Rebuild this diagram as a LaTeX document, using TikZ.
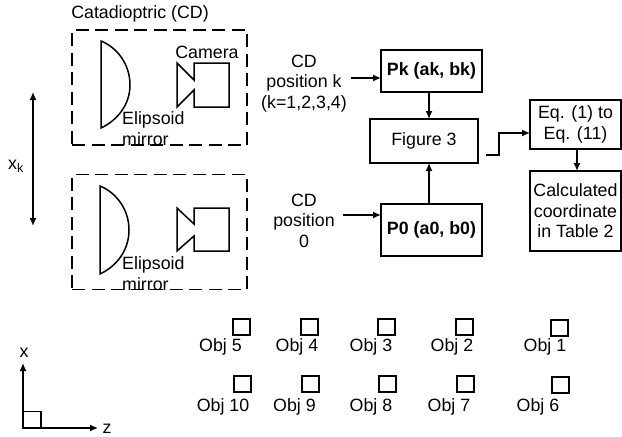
\documentclass[tikz,border=0pt]{standalone}
\usepackage{fontspec}
\setmainfont{Liberation Sans}
\usetikzlibrary{arrows.meta}
\tikzset{
  lw/.style={line width=1.5pt},
  arr/.style={lw,-{Latex[length=8pt,width=7pt]}},
  dbl/.style={lw,{Latex[length=8pt,width=7pt]}-{Latex[length=8pt,width=7pt]}},
  txt/.style={inner sep=0pt,align=center,font=\fontsize{17.8}{20.5}\selectfont},
  ltxt/.style={inner sep=0pt,align=left,font=\fontsize{17.8}{21}\selectfont},
  flow/.style={draw,lw,inner sep=0pt,outer sep=0pt,align=center,font=\fontsize{17.8}{20.5}\selectfont},
  dbox/.style={draw,lw,dash pattern=on 13pt off 6.5pt,inner sep=0pt,outer sep=0pt,minimum width=175pt,minimum height=115pt},
  objbox/.style={draw,lw,inner sep=0pt,outer sep=0pt,minimum width=17pt,minimum height=16pt},
  shapeline/.style={lw,line join=miter},
}
\begin{document}
\begin{tikzpicture}[x=1pt,y=-1pt]
\useasboundingbox (0,0) rectangle (622,437);
% dashed enclosures
\node[dbox] (cd1) at (159.5,87.5) {};
\node[dbox] (cd2) at (159.5,232) {};
\node[txt] (cdtitle) at (140,14) {Catadioptric (CD)};
% mirrors
\draw[shapeline] (101,41) .. controls (118,48) and (130,65) .. (130,85) .. controls (130,104) and (118,120) .. (101,128) -- cycle;
\draw[shapeline] (100,186) .. controls (117,193) and (129,210) .. (129,230) .. controls (129,250) and (117,266) .. (100,274) -- cycle;
% cameras
\draw[shapeline] (194,63) -- (229,63) -- (229,107) -- (194,107) -- (194,90) -- (177,107) -- (177,63) -- (194,80) -- cycle;
\draw[shapeline] (194,208) -- (229,208) -- (229,251) -- (194,251) -- (194,236) -- (177,251) -- (177,208) -- (194,224) -- cycle;
\node[txt] (camlabel) at (207,52) {Camera};
\node[ltxt,anchor=north west] (mir1) at (122,111) {Elipsoid\\mirror};
\node[ltxt,anchor=north west] (mir2) at (122,256.5) {Elipsoid\\mirror};
% xk arrow
\coordinate (xtop) at (33,92);
\coordinate (xbot) at (33,226);
\draw[dbl] (xtop) -- (xbot);
\node[txt] (xk) at (16,166) {x\textsubscript{k}};
% flow boxes
\node[flow,minimum width=101pt,minimum height=42pt,font=\fontsize{17.8}{20.5}\selectfont\bfseries] (pk) at (431.5,71) {Pk (ak, bk)};
\node[flow,minimum width=108pt,minimum height=44pt] (fig) at (424,141) {Figure 3};
\node[flow,minimum width=101pt,minimum height=52pt,font=\fontsize{17.8}{20.5}\selectfont\bfseries] (p0) at (431.5,230) {P0 (a0, b0)};
\node[flow,minimum width=91pt,minimum height=49pt] (eq) at (575.5,124.5) {Eq. (1) to\\Eq. (11)};
\node[flow,minimum width=91pt,minimum height=80pt] (calc) at (575.5,211) {Calculated\\coordinate\\in Table 2};
\node[txt] (posk) at (304,83.5) {CD\\position k\\(k=1,2,3,4)};
\node[txt] (pos0) at (304,220.5) {CD\\position\\0};
% connectors
\coordinate (posks) at (351,78);
\coordinate (pos0s) at (343,215);
\coordinate (stepstart) at (486,155);
\coordinate (stepa) at (499,155);
\coordinate (stepb) at (499,133);
\coordinate (midx) at (429,0);
\coordinate (eqx) at (577,0);
\draw[arr] (posks) -- (posks -| pk.west);
\draw[arr] (pos0s) -- (pos0s -| p0.west);
\draw[arr] (pk.south -| midx) -- (fig.north -| midx);
\draw[arr] (p0.north -| midx) -- (fig.south -| midx);
\draw[arr] (stepstart) -- (stepa) -- (stepb) -- (stepb -| eq.west);
\draw[arr] (eq.south -| eqx) -- (calc.north -| eqx);
% objects
\node[objbox] (o5) at (241.5,327) {};
\node[objbox] (o4) at (309.5,327) {};
\node[objbox] (o3) at (386.5,327) {};
\node[objbox] (o2) at (464.5,327) {};
\node[objbox] (o1) at (559.5,328) {};
\node[objbox] (o10) at (242.5,384) {};
\node[objbox] (o9) at (310.5,384) {};
\node[objbox] (o8) at (387.5,384) {};
\node[objbox] (o7) at (465.5,384) {};
\node[objbox] (o6) at (560.5,385) {};
\node[txt] (t5) at (220.5,346.5) {Obj 5};
\node[txt] (t4) at (297,346.5) {Obj 4};
\node[txt] (t3) at (371,346.5) {Obj 3};
\node[txt] (t2) at (452,346.5) {Obj 2};
\node[txt] (t1) at (545,346.5) {Obj 1};
\node[txt] (t10) at (223,406.5) {Obj 10};
\node[txt] (t9) at (294.5,406.5) {Obj 9};
\node[txt] (t8) at (371,406.5) {Obj 8};
\node[txt] (t7) at (449,406.5) {Obj 7};
\node[txt] (t6) at (538,406.5) {Obj 6};
% axes
\coordinate (origin) at (23,428);
\coordinate (xaxis) at (23,363);
\coordinate (zaxis) at (98,428);
\draw[arr] (origin) -- (xaxis);
\draw[arr] (origin) -- (zaxis);
\draw[lw] (23,411.5) rectangle (41,428);
\node[txt] (xl) at (24,353) {x};
\node[txt] (zl) at (107,429) {z};
\end{tikzpicture}
\end{document}
